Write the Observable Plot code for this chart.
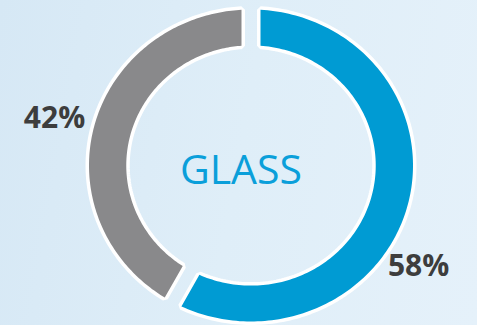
<!DOCTYPE html>
<html><head><meta charset="utf-8">
<script src="https://cdn.jsdelivr.net/npm/d3@7"></script>
<script src="https://cdn.jsdelivr.net/npm/@observablehq/plot@0.6"></script>
<style>
html,body{margin:0;padding:0;}
body{width:477px;height:325px;overflow:hidden;background:linear-gradient(100deg,#d6e8f5 0%,#dfeef8 50%,#e5f1fa 100%);}
#chart svg{display:block;background:transparent;}
</style></head><body><div id="chart"></div>
<script>
// data
const segments = ["Glass", "Other"];
const shares = [58, 42];
const shareLabels = ["58%", "42%"];
const centerTitle = "GLASS";

// layout (pixels)
const W = 477, H = 325;
const cx = 250.5, cy = 165, rx = 162, ry = 156;
const inner = 0.77;
const halfGap = 9.5 / rx;
const labelAt = {Glass: [122, 1.22], Other: [284, 1.25]}; // degrees clockwise from top, radius

const total = d3.sum(shares);
let acc = 0;
const slices = segments.map((s, i) => {
  const a0 = acc / total * 2 * Math.PI; acc += shares[i];
  const a1 = acc / total * 2 * Math.PI;
  return {s, a0, a1, label: shareLabels[i]};
});

const pts = [];
for (const sl of slices) {
  const n = 160;
  for (const [r, dir] of [[1, 1], [inner, -1]]) {
    const d = Math.asin(halfGap / r);
    const s = sl.a0 + d, e = sl.a1 - d;
    for (let k = 0; k <= n; k++) {
      const t = dir > 0 ? s + (e - s) * k / n : e - (e - s) * k / n;
      pts.push({seg: sl.s, x: r * Math.sin(t), y: r * Math.cos(t)});
    }
  }
}
const labels = slices.map(sl => {
  const [deg, r] = labelAt[sl.s];
  const t = deg * Math.PI / 180;
  return {text: sl.label, x: r * Math.sin(t), y: r * Math.cos(t)};
});

const chart = Plot.plot({
  width: W, height: H, margin: 0,
  x: {domain: [-cx / rx, (W - cx) / rx], axis: null},
  y: {domain: [-(H - cy) / ry, cy / ry], axis: null},
  color: {domain: segments, range: ["#009bd3", "#89898b"]},
  style: {background: "transparent"},
  marks: [
    Plot.line(pts, {x: "x", y: "y", z: "seg", curve: "linear-closed", stroke: "white", fill: "white", strokeWidth: 7, strokeLinejoin: "miter"}),
    Plot.line(pts, {x: "x", y: "y", z: "seg", curve: "linear-closed", fill: "seg", stroke: "none"}),
    Plot.text(labels, {x: "x", y: "y", text: "text", fontSize: 30, fontWeight: "bold", fill: "#3d3d3d", fontFamily: "Open Sans"}),
    Plot.text([centerTitle], {x: [-0.062], y: [-0.032], text: d => d, fontSize: 41, fill: "#0a9fda", fontFamily: "Open Sans"})
  ]
});
document.getElementById("chart").append(chart);
</script></body></html>
